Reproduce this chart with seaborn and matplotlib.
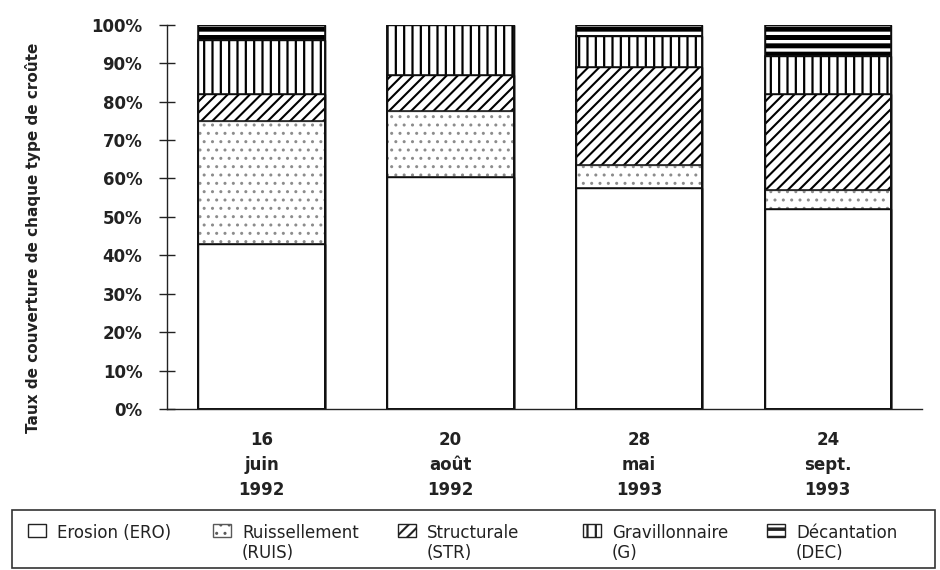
import pandas as pd
import seaborn as sns
import matplotlib.pyplot as plt
from matplotlib.patches import Patch, Rectangle
from matplotlib.ticker import FixedLocator

# Values (percent of cover for each crust type)
dates = ['16\njuin\n1992', '20\naoût\n1992', '28\nmai\n1993', '24\nsept.\n1993']
ero = [43, 60.5, 57.5, 52]
ruis = [32, 17, 6, 5]
stru = [7, 9.5, 25.5, 25]
grav = [14, 13, 8, 10]
dec = [4, 0, 3, 8]

labels = ['Erosion (ERO)', 'Ruissellement\n(RUIS)', 'Structurale\n(STR)',
          'Gravillonnaire\n(G)', 'Décantation\n(DEC)']
layers = [ero, ruis, stru, grav, dec]
hatches = ['', '..', '///', '||', '--']
hatch_lw = [1.0, 1.0, 1.5, 1.6, 3.6]
edge_cols = ['black', '0.55', 'black', 'black', 'black']

sns.set_style('white')
plt.rcParams['font.family'] = ['DejaVu Sans']
txt_col = '#222222'

# cumulative tops, drawn from the tallest down so each layer covers the one below
df = pd.DataFrame({'date': dates})
running = [0] * len(dates)
for i, vals in enumerate(layers):
    running = [r + v for r, v in zip(running, vals)]
    df[f'cum{i}'] = running

fig = plt.figure(figsize=(9.4, 5.7), dpi=100)
ax = fig.add_axes([0.178, 0.2825, 0.803, 0.674])

for i in reversed(range(len(layers))):
    sns.barplot(data=df, x='date', y=f'cum{i}', color='white', saturation=1,
                edgecolor=edge_cols[i], linewidth=1.0, hatch=hatches[i],
                width=0.67, errorbar=None, ax=ax)
    for p in ax.containers[-1]:
        p.set_hatch_linewidth(hatch_lw[i])

# black outlines on top
for i in reversed(range(len(layers))):
    sns.barplot(data=df, x='date', y=f'cum{i}', color='#111111', fill=False,
                linewidth=1.1, width=0.67, errorbar=None, ax=ax)

ax.set_ylim(0, 100)
ax.set_xlim(-0.5, 3.5)
ax.set_yticks(range(0, 101, 10))
ax.set_yticklabels([f'{v}%' for v in range(0, 101, 10)], fontweight='bold',
                   fontsize=12, color=txt_col)
ax.set_xticks(range(len(dates)))
ax.set_xticklabels(dates, fontweight='bold', fontsize=12, linespacing=1.5, color=txt_col)
ax.xaxis.set_minor_locator(FixedLocator([-0.5, 0.5, 1.5, 2.5, 3.5]))
ax.tick_params(axis='x', which='major', length=0, pad=16)
ax.tick_params(axis='x', which='minor', direction='inout', length=9, width=1, color='#222222')
ax.tick_params(axis='y', direction='inout', length=11, width=1, color='#222222',
               pad=12.5, left=True)
ax.set_xlabel('')
ax.set_ylabel('Taux de couverture de chaque type de croûte', fontweight='bold',
              fontsize=11, color=txt_col)
ax.yaxis.set_label_coords(-0.168, 0.445)
for s in ['top', 'right']:
    ax.spines[s].set_visible(False)
for s in ['left', 'bottom']:
    ax.spines[s].set_color('#222222')
    ax.spines[s].set_linewidth(1.0)

# legend: one entry per column, inside a single frame at the bottom
W, H = 940.0, 570.0
fig.add_artist(Rectangle((12 / W, 2 / H), 923 / W, 58 / H, transform=fig.transFigure,
                         facecolor='none', edgecolor='#333333', linewidth=1.2))
leg_x = [28, 213, 398, 583, 767]
fs = 12 * 100 / 72.0
for i in range(len(layers)):
    h = Patch(facecolor='white', edgecolor='#222222' if i != 1 else '0.35',
              hatch=hatches[i], linewidth=1.0)
    leg = fig.legend([h], [labels[i]], loc='upper left',
                     bbox_to_anchor=(leg_x[i] / W, 1 - 524 / H), frameon=False,
                     fontsize=12, borderpad=0, borderaxespad=0,
                     handlelength=18 / fs, handleheight=13 / fs,
                     handletextpad=11 / fs)
    for t in leg.get_texts():
        t.set_color(txt_col)
        t.set_linespacing(1.15)
    for p in leg.get_patches():
        p.set_hatch_linewidth(min(hatch_lw[i], 2.5))
    try:
        for col in leg._legend_handle_box.get_children():
            for item in col.get_children():
                item.align = 'top'
    except AttributeError:
        pass

fig.savefig('out.png', dpi=100)
